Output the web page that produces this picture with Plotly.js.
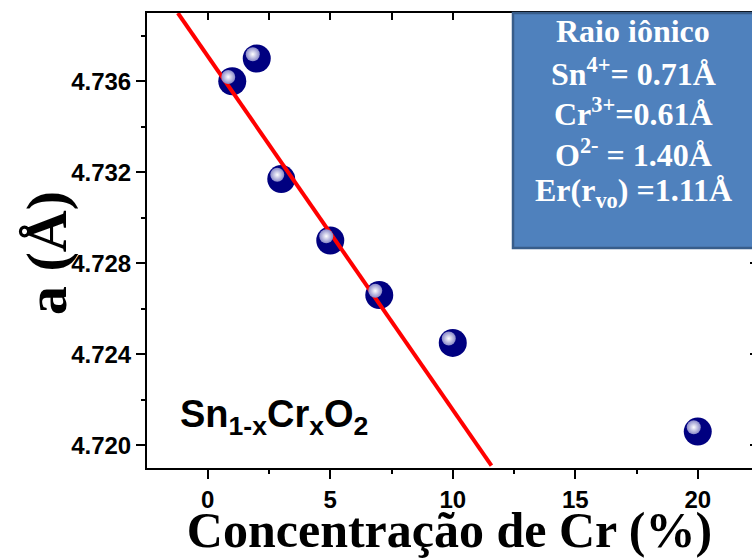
<!DOCTYPE html>
<html>
<head>
<meta charset="utf-8">
<script src="https://cdn.plot.ly/plotly-3.0.1.min.js"></script>
<style>html,body{margin:0;padding:0;background:#fff;}#chart{width:752px;height:558px;}</style>
</head>
<body>
<div id="chart"></div>
<script>
// Data
const crConcentration = [1, 2, 3, 5, 7, 10, 20];          // x, Cr (%)
const latticeA = [4.7360, 4.7370, 4.7317, 4.7290, 4.7266, 4.7245, 4.7206]; // a (Å)
const fitX = [-1.22, 11.58];
const fitY = [4.7390, 4.7191];
const xTickVals = [0, 5, 10, 15, 20];
const yTickVals = [4.720, 4.724, 4.728, 4.732, 4.736];
const boxLines = [
  'Raio iônico',
  'Sn<sup>4+</sup>= 0.71Å',
  'Cr<sup>3+</sup>=0.61Å',
  'O<sup>2-</sup> = 1.40Å',
  'Er(r<sub>vo</sub>) =1.11Å'
];
const compoundLabel = 'Sn<sub>1-x</sub>Cr<sub>x</sub>O<sub>2</sub>';
const xTitle = 'Concentração de Cr (%)';
const yTitle = 'a (Å)';

// Layout geometry
const W = 752, H = 558;
const M = {l: 147, r: 0, t: 13, b: 90};
const PW = W - M.l - M.r, PH = H - M.t - M.b;
const xRange = [-2.48, -2.48 + PW / 24.5];
const yRange = [4.7190, 4.7390];
const pxX = (xRange[1] - xRange[0]) / PW;
const pxY = (yRange[1] - yRange[0]) / PH;
const px2paperX = p => (p - M.l) / PW;
const px2paperY = p => 1 - (p - M.t) / PH;

const sans = 'Liberation Sans, Arial, sans-serif';
const serif = 'Liberation Serif, Times New Roman, serif';

const traces = [
  {
    x: crConcentration, y: latticeA, type: 'scatter', mode: 'markers',
    marker: {size: 28, color: '#000080', line: {width: 0}},
    hoverinfo: 'x+y', showlegend: false
  },
  {
    x: fitX, y: fitY, type: 'scatter', mode: 'lines',
    line: {color: '#ff0000', width: 4},
    showlegend: false, hoverinfo: 'skip'
  },
  {
    x: crConcentration.map(v => v - 4 * pxX),
    y: latticeA.map(v => v + 4.3 * pxY),
    type: 'scatter', mode: 'markers',
    marker: {size: 14, color: '#8888c8', gradient: {type: 'radial', color: '#ffffff'}, line: {width: 0}},
    showlegend: false, hoverinfo: 'skip'
  },
  {
    x: [xRange[0]], y: [yRange[0]], xaxis: 'x2', yaxis: 'y2', type: 'scatter', mode: 'markers',
    marker: {size: 0, opacity: 0}, showlegend: false, hoverinfo: 'skip'
  }
];

const boxTop = 13, boxBottom = 248, boxLeft = 513, boxRight = 756;
const lineCenters = [31, 72, 112, 153, 193];
const annotations = boxLines.map((t, i) => ({
  xref: 'paper', yref: 'paper',
  x: px2paperX(633), y: px2paperY(lineCenters[i]),
  xanchor: 'center', yanchor: 'middle',
  text: t, showarrow: false,
  font: {family: serif, size: 32, color: '#ffffff', weight: 'bold'}
}));
annotations.push({
  xref: 'paper', yref: 'paper',
  x: px2paperX(178), y: px2paperY(417),
  xanchor: 'left', yanchor: 'middle',
  text: compoundLabel, showarrow: false,
  font: {family: sans, size: 38, color: '#000000', weight: 'bold'}
});
annotations.push({
  xref: 'paper', yref: 'paper',
  x: px2paperX(46), y: px2paperY(253),
  xanchor: 'center', yanchor: 'middle', textangle: -90,
  text: yTitle, showarrow: false,
  font: {family: serif, size: 58, color: '#000000', weight: 'bold'}
});

const layout = {
  width: W, height: H,
  margin: M,
  paper_bgcolor: '#ffffff', plot_bgcolor: '#ffffff',
  showlegend: false,
  xaxis: {
    range: xRange, showgrid: false, zeroline: false,
    showline: true, linecolor: '#000', linewidth: 2, mirror: true,
    ticks: 'outside', ticklen: 9, tickwidth: 2, tickcolor: '#000',
    tickvals: xTickVals, ticktext: xTickVals.map(String),
    minor: {tickvals: [-2.5, 2.5, 7.5, 12.5, 17.5], ticks: 'outside', ticklen: 4, tickwidth: 2, tickcolor: '#000'},
    tickfont: {family: sans, size: 24, color: '#000', weight: 'bold'},
    title: {text: xTitle, standoff: 0,
      font: {family: serif, size: 50, color: '#000', weight: 'bold'}}
  },
  yaxis: {
    range: yRange, showgrid: false, zeroline: false,
    showline: true, linecolor: '#000', linewidth: 2,
    ticks: 'outside', ticklen: 9, tickwidth: 2, tickcolor: '#000',
    tickvals: yTickVals, ticktext: yTickVals.map(v => v.toFixed(3)),
    minor: {tickvals: [4.722, 4.726, 4.730, 4.734, 4.738], ticks: 'outside', ticklen: 4, tickwidth: 2, tickcolor: '#000'},
    tickfont: {family: sans, size: 24, color: '#000', weight: 'bold'}
  },
  xaxis2: {
    overlaying: 'x', side: 'top', range: xRange, showgrid: false, zeroline: false,
    showline: false, showticklabels: false,
    ticks: 'inside', ticklen: 7, tickwidth: 2, tickcolor: '#000',
    tickvals: [0, 2.5, 5, 7.5, 10, 12.5, 15, 17.5, 20]
  },
  yaxis2: {
    overlaying: 'y', side: 'right', range: yRange, showgrid: false, zeroline: false,
    showline: false, showticklabels: false,
    ticks: 'inside', ticklen: 2, tickwidth: 2, tickcolor: '#000',
    tickvals: yTickVals
  },
  shapes: [{
    type: 'rect', xref: 'paper', yref: 'paper', layer: 'above',
    x0: px2paperX(boxLeft), x1: px2paperX(boxRight),
    y0: px2paperY(boxBottom), y1: px2paperY(boxTop),
    fillcolor: '#4f81bd', line: {color: '#385d8a', width: 2.5}
  }],
  annotations: annotations
};

Plotly.newPlot('chart', traces, layout, {displayModeBar: false, staticPlot: true});
</script>
</body>
</html>
